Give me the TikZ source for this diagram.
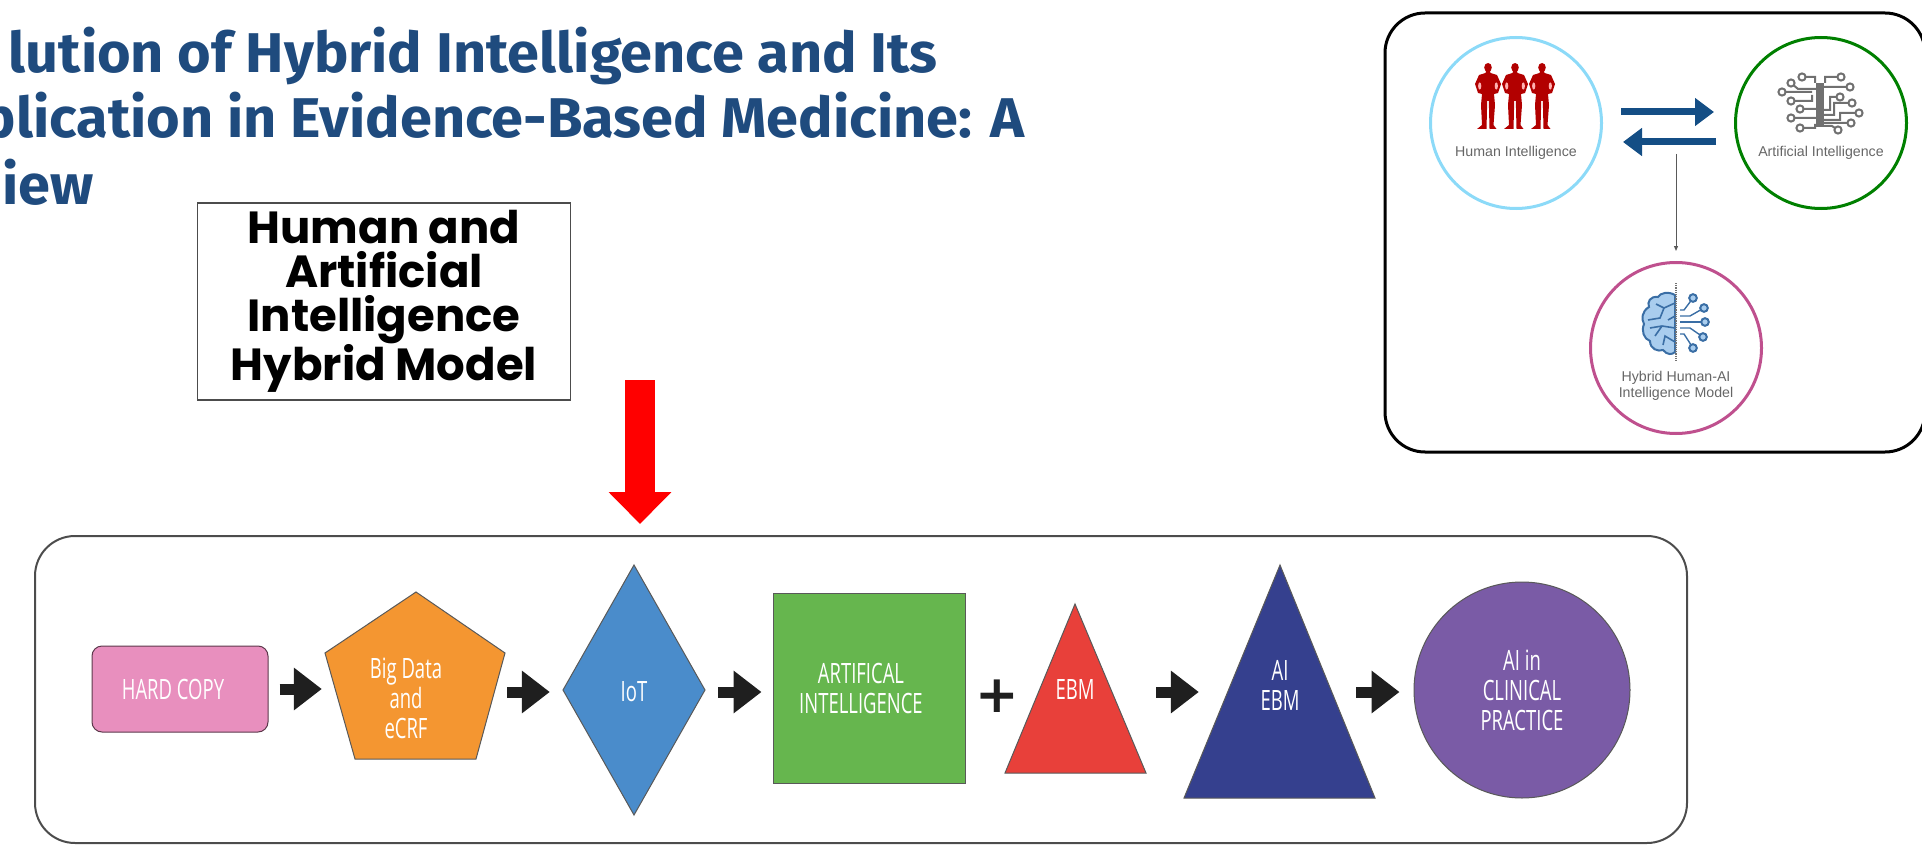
\documentclass[tikz,border=0pt]{standalone}
\usepackage{fontspec}
\usetikzlibrary{arrows.meta,calc}
\newfontfamily\titlefont[FakeStretch=1.03]{Fira Sans}
\newfontfamily\boxfont{Poppins}
\newfontfamily\narrowfont[FakeStretch=0.66]{Open Sans}
\newfontfamily\smallfont{Liberation Sans}
\newfontfamily\plusfont{DejaVu Sans}
\definecolor{titleblue}{HTML}{1F4B7E}
\definecolor{darkblue}{HTML}{144E85}
\definecolor{pinkfill}{HTML}{E88FBE}
\definecolor{orangefill}{HTML}{F49631}
\definecolor{bluefill}{HTML}{4A8CCB}
\definecolor{greenfill}{HTML}{66B64E}
\definecolor{redfill}{HTML}{E8403A}
\definecolor{navyfill}{HTML}{35408E}
\definecolor{purplefill}{HTML}{7A5BA6}
\definecolor{chipgray}{HTML}{707070}
\definecolor{brainblue}{HTML}{A9CDEE}
\definecolor{brainline}{HTML}{3A6EA5}
\tikzset{
  titletext/.style={anchor=base east,text=titleblue,font=\titlefont\bfseries\fontsize{56}{60}\selectfont,inner sep=0},
  flowtext/.style={text=white,align=center,inner sep=0,font=\narrowfont\fontsize{28}{30}\selectfont},
  shapeout/.style={draw=black!65,line width=1},
  blockarrow/.style={line width=11,draw=black!88,-{Triangle[length=28pt,width=41pt]}},
  biarrow/.style={line width=7,draw=darkblue,-{Triangle[length=19pt,width=27pt]}},
  ringnode/.style={circle,minimum size=171,inner sep=0,line width=3},
  smalllabel/.style={text=black!60,align=center,inner sep=0,font=\smallfont\fontsize{14.2}{16}\selectfont},
  tracedot/.style={draw=chipgray,fill=white,line width=2},
}
\begin{document}
\begin{tikzpicture}[x=1pt,y=-1pt]
\useasboundingbox (0,0) rectangle (1922,845);
\clip (0,0) rectangle (1922,845);
% title
\node[titletext] (t1) at (938,73) {lution of Hybrid Intelligence and Its};
\node[titletext] (t2) at (1025,138) {plication in Evidence-Based Medicine: A};
\node[titletext,anchor=base west] (t3) at (2,205) {iew};
% model box
\node[draw=black!70,line width=1.5,minimum width=373,minimum height=197,inner sep=0,align=center,
  font=\boxfont\bfseries\fontsize{45}{44}\selectfont] (model) at (384,301.5)
  {Human and\\Artificial\\Intelligence\\Hybrid Model};
% flow frame
\node[draw=black!70,line width=2,rounded corners=40,minimum width=1652,minimum height=307,inner sep=0] (flow) at (861,689.5) {};
\coordinate (redstart) at (640,380);
\draw[line width=30,draw=red,-{Triangle[length=32pt,width=61pt]},shorten >=11] (redstart) -- (redstart |- flow.north);
% shapes
\node[shapeout,draw=black!60!pinkfill,fill=pinkfill,rounded corners=10,minimum width=176,minimum height=86,flowtext] (hard) at (180,689) {\hspace*{-14pt}HARD COPY};
\fill[orangefill] (416,592) -- (505,653) -- (476,759) -- (355,759) -- (325,653) -- cycle;
\draw[shapeout] (416,592) -- (505,653) -- (476,759) -- (355,759) -- (325,653) -- cycle;
\node[flowtext,minimum width=161] (pent) at (406,698) {Big Data\\and\\eCRF};
\draw[shapeout,fill=bluefill] (634,565) -- (705,690) -- (634,815) -- (563,690) -- cycle;
\node[flowtext,minimum width=142] (iot) at (634,692) {IoT};
\node[shapeout,fill=greenfill,minimum width=192,minimum height=190,flowtext] (green) at (869,688) {ARTIFICAL\hspace*{16pt}\\INTELLIGENCE\hspace*{16pt}};
\node[inner sep=0,font=\plusfont\bfseries\fontsize{52}{52}\selectfont,text=black!88] (plus) at (997,696) {+};
\draw[shapeout,fill=redfill] (1075,604) -- (1146,773) -- (1005,773) -- cycle;
\node[flowtext,minimum width=72] (ebm) at (1075,690) {EBM};
\draw[shapeout,fill=navyfill] (1280,565) -- (1375,798) -- (1184,798) -- cycle;
\node[flowtext,minimum width=104] (aiebm) at (1280,685) {AI\\EBM};
\node[shapeout,fill=purplefill,circle,minimum size=216,inner sep=0,flowtext] (clinical) at (1522,690) {AI in\\CLINICAL\\PRACTICE};
% flow arrows
\draw[blockarrow,shorten <=11,shorten >=3.5] (hard.east) -- (hard.east -| pent.west);
\draw[blockarrow,shorten <=20.5,shorten >=13] (iot.west -| pent.east) -- (iot.west);
\draw[blockarrow,shorten <=13,shorten >=11] (iot.east) -- (iot.east -| green.west);
\draw[blockarrow,shorten <=45,shorten >=29] (ebm.east |- iot.east) -- (aiebm.west |- iot.east);
\draw[blockarrow,shorten <=24,shorten >=14] (aiebm.east |- iot.east) -- (clinical.west |- iot.east);
% top right frame
\node[draw=black,line width=3,rounded corners=40,minimum width=540,minimum height=439,inner sep=0] (frame) at (1655,232.5) {};
\node[ringnode,draw=cyan!45] (human) at (1516,123) {};
\node[ringnode,draw=green!50!black] (ai) at (1821,123) {};
\node[ringnode,draw=magenta!70!black!85] (hybrid) at (1676,348) {};
\node[smalllabel] (humanl) at (1516,153) {Human Intelligence};
\node[smalllabel] (ail) at (1821,153) {Artificial Intelligence};
\node[smalllabel] (hybridl) at (1676,386) {Hybrid Human-AI\\Intelligence Model};
\draw[biarrow,shorten <=18,shorten >=20] ([yshift=11pt]human.east) -- ([yshift=11pt]ai.west);
\draw[biarrow,shorten <=18,shorten >=20] ([yshift=-19pt]ai.west) -- ([yshift=-19pt]human.east);
\coordinate (hstart) at (1676,154);
\draw[draw=black!65,line width=1,-{Triangle[length=5pt,width=4pt]},shorten >=10] (hstart) -- (hstart |- hybrid.north);
% people
\foreach \cx in {1488,1515,1542}{
\begin{scope}[shift={(\cx,63)}]
\fill[red!70!black] (0,4.5) ellipse[x radius=3.8,y radius=4.5];
\fill[red!70!black] (-2,8) -- (2,8) -- (2.5,10) -- (9,12) -- (13,21) -- (10,30) -- (6,31) -- (7,42) -- (5.5,62) -- (8.5,66) -- (1.5,66) -- (0.8,38) -- (-0.8,38) -- (-1.5,66) -- (-11,66) -- (-6,62) -- (-7,42) -- (-6,31) -- (-10,30) -- (-13,21) -- (-9,12) -- (-2.5,10) -- cycle;
\fill[red!30] (-8.3,23) ellipse[x radius=1.6,y radius=3.6];
\fill[red!30] (8.3,23) ellipse[x radius=1.6,y radius=3.6];
\end{scope}}
% chip icon
\fill[chipgray] (1816,83) rectangle (1824,127);
\draw[chipgray,line width=2]
  (1802,77) -- (1815,77) -- (1815,83)
  (1841,77) -- (1825,77) -- (1825,83)
  (1791,83) -- (1798,89) -- (1816,89)
  (1782,92) -- (1812,92)
  (1791,101) -- (1812,101) -- (1812,95)
  (1850,87) -- (1824,87)
  (1840,97) -- (1830,97) -- (1830,110) -- (1824,110)
  (1852,103) -- (1834,103) -- (1834,115) -- (1824,115)
  (1859,113) -- (1840,113) -- (1840,120) -- (1824,120)
  (1851,123) -- (1824,123)
  (1838,130) -- (1832,126) -- (1824,126)
  (1800,128) -- (1815,128) -- (1815,124)
  (1791,118) -- (1816,118)
  (1800,109) -- (1816,109);
\foreach \x/\y in {1802/77,1841/77,1791/83,1782/92,1791/101,1850/87,1840/97,1852/103,1859/113,1851/123,1838/130,1800/128,1791/118,1800/109}{
  \draw[tracedot] (\x,\y) circle[radius=3.6];}
% brain icon
\draw[brainline,fill=brainblue,line width=2] (1675,295) .. controls (1668,291) and (1660,293) .. (1658,297) .. controls (1650,296) and (1647,302) .. (1649,307) .. controls (1642,311) and (1641,319) .. (1644,324) .. controls (1641,331) and (1644,339) .. (1650,341) .. controls (1650,349) and (1658,352) .. (1663,350) .. controls (1667,355) and (1672,355) .. (1675,352) -- cycle;
\draw[brainline,line width=1.6] (1675,303) -- (1664,308) -- (1656,304) (1664,308) -- (1660,318) -- (1648,320) (1675,316) -- (1668,320) (1675,328) -- (1662,326) -- (1655,336) (1662,326) -- (1650,328) (1675,342) -- (1665,336) -- (1663,345);
\draw[black!55,line width=1.2,densely dotted] (1676,283) -- (1676,362);
\foreach \x/\y/\sy/\ex in {1693/298/310/1684,1704/308/316/1690,1705/322/322/1690,1703/337/328/1690,1693/348/334/1684}{
  \draw[brainline,line width=1.4] (1680,\sy) -- (\ex,\sy) -- (\x,\y);
  \draw[brainline,fill=brainblue,line width=2] (\x,\y) circle[radius=3.8];}
\end{tikzpicture}
\end{document}
